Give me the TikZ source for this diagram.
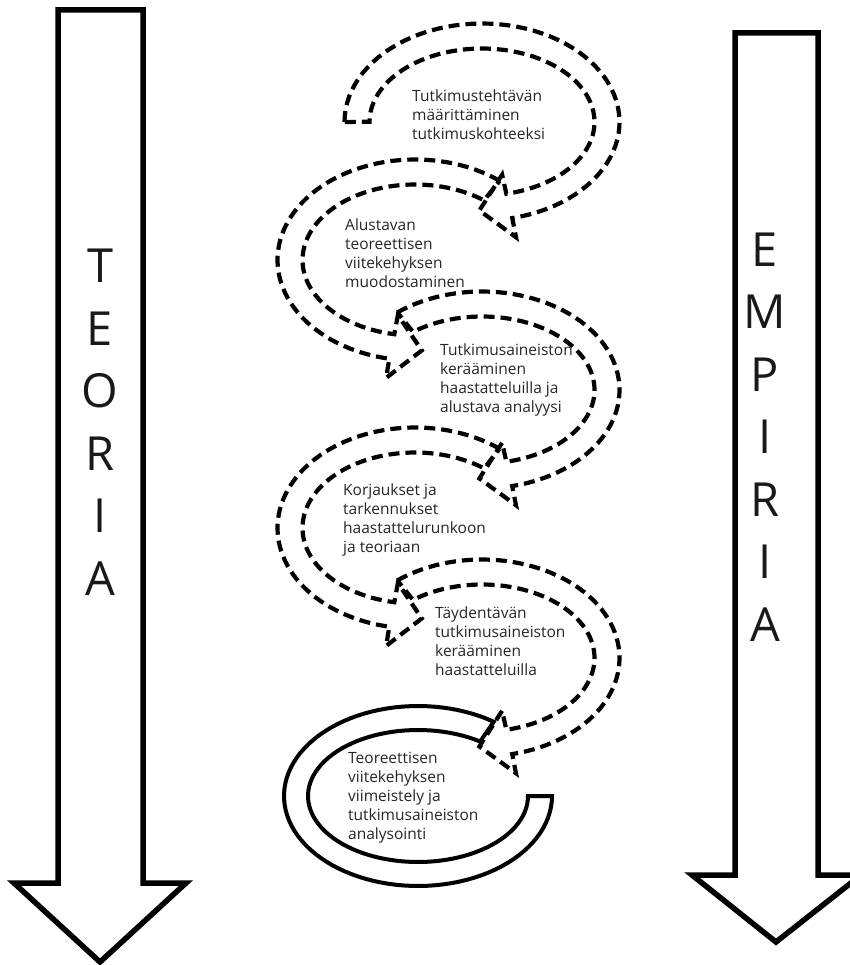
\documentclass[tikz,border=0pt]{standalone}
\usepackage{fontspec}
\setmainfont{Open Sans}
\usetikzlibrary{calc}
\tikzset{
  loopdash/.style={line width=4.2pt,dash pattern=on 11pt off 6pt},
  loopsolid/.style={line width=4pt},
  bigarrow/.style={line width=5.5pt,line join=miter},
  steptext/.style={anchor=north west,inner sep=0pt,align=left,text=black!85,font=\fontsize{15.5}{19}\selectfont},
  sidetext/.style={align=center,inner sep=0pt,text=black!90,font=\fontsize{47}{62.5}\selectfont},
}
% band along an ellipse with a head at the end: cx, cy, rx, ry, start, end, style
\newcommand{\loopband}[7]{%
  \pgfmathsetmacro\lbS{sign((#6)-(#5))}%
  \pgfmathsetmacro\lbTx{(\lbS)*(-(#3))*sin(#6)}%
  \pgfmathsetmacro\lbTy{(\lbS)*(#4)*cos(#6)}%
  \pgfmathsetmacro\lbL{veclen(\lbTx,\lbTy)}%
  \pgfmathsetmacro\lbBx{#1+(#3)*cos(#6)}%
  \pgfmathsetmacro\lbBy{#2+(#4)*sin(#6)}%
  \draw[#7] plot[domain=0:1,samples=70] ({#1+(#3+12.5)*cos((#5)+((#6)-(#5))*\x)},{#2+(#4+12.5)*sin((#5)+((#6)-(#5))*\x)})
    -- ({\lbBx+32*cos(#6)},{\lbBy+32*sin(#6)})
    -- ({\lbBx+30*(\lbTx)/\lbL},{\lbBy+30*(\lbTy)/\lbL})
    -- ({\lbBx-32*cos(#6)},{\lbBy-32*sin(#6)})
    -- plot[domain=0:1,samples=70] ({#1+(#3-12.5)*cos((#6)+((#5)-(#6))*\x)},{#2+(#4-12.5)*sin((#6)+((#5)-(#6))*\x)})
    -- cycle;}

\begin{document}
\begin{tikzpicture}[x=1pt,y=-1pt]
\useasboundingbox (0,0) rectangle (849,965);
% side arrows
\draw[bigarrow] (58,10) -- (143,10) -- (143,883) -- (186,883) -- (100,962) -- (14,883) -- (58,883) -- cycle;
\draw[bigarrow] (735,33) -- (818,33) -- (818,875) -- (861,875) -- (776,942) -- (692,875) -- (735,875) -- cycle;
\node[sidetext] (teoria) at (100,422) {T\\E\\O\\R\\I\\A};
\node[sidetext] (empiria) at (765,437) {E\\M\\P\\I\\R\\I\\A};
% the winding path
\loopband{482}{122}{125}{86}{180}{437.5}{loopdash}
\loopband{415}{260}{125}{88}{-52}{-259.4}{loopdash}
\loopband{482}{390}{125}{86}{232}{437.5}{loopdash}
\loopband{415}{528}{125}{88}{-52}{-259.4}{loopdash}
\loopband{482}{658}{125}{86}{232}{437.5}{loopdash}
\draw[loopsolid] plot[domain=-55.6:-360,samples=90] ({418+134*cos(\x)},{796+90*sin(\x)})
  -- plot[domain=-360:-55.6,samples=90] ({418+110*cos(\x)},{796+66*sin(\x)}) -- cycle;
% texts
\node[steptext] (step1) at (412,90) {Tutkimustehtävän\\määrittäminen\\tutkimuskohteeksi};
\node[steptext] (step2) at (345,219) {Alustavan\\teoreettisen\\viitekehyksen\\muodostaminen};
\node[steptext] (step3) at (440,344) {Tutkimusaineiston\\kerääminen\\haastatteluilla ja\\alustava analyysi};
\node[steptext] (step4) at (343,484) {Korjaukset ja\\tarkennukset\\haastattelurunkoon\\ja teoriaan};
\node[steptext] (step5) at (435,607) {Täydentävän\\tutkimusaineiston\\kerääminen\\haastatteluilla};
\node[steptext] (step6) at (348,752) {Teoreettisen\\viitekehyksen\\viimeistely ja\\tutkimusaineiston\\analysointi};
\end{tikzpicture}
\end{document}
